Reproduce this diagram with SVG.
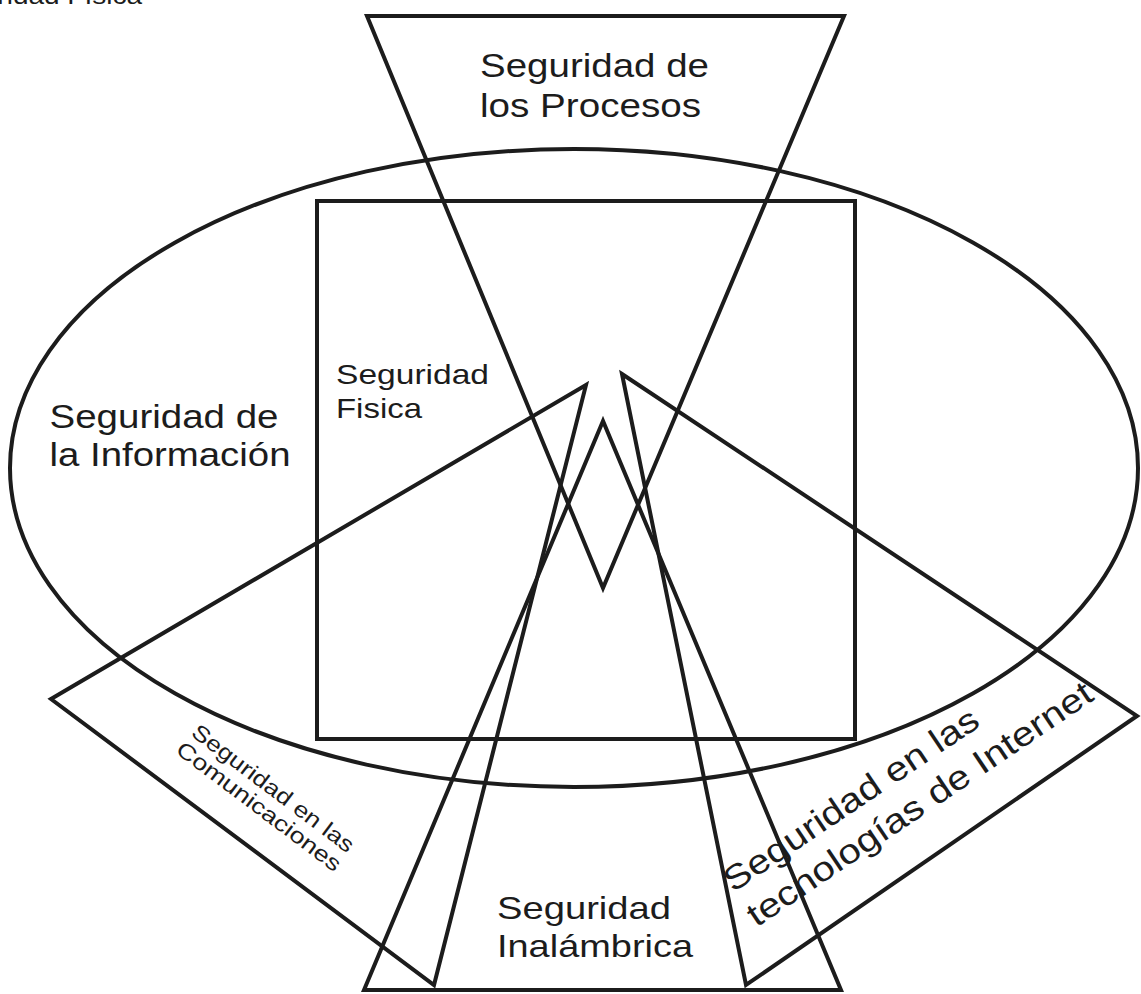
<svg xmlns="http://www.w3.org/2000/svg" width="1141" height="994" viewBox="0 0 1141 994">
<style>
.s{fill:none;stroke:#1c1c1c;stroke-width:4;stroke-linejoin:miter}
.t{font-family:"Liberation Sans",Arial,sans-serif;fill:#1c1c1c}
</style>
<rect width="1141" height="994" fill="#ffffff"/>
<g id="info">
<ellipse class="s" cx="574" cy="468" rx="564" ry="319"/>
<text class="t" font-size="33"><tspan x="49.5" y="428" textLength="229" lengthAdjust="spacingAndGlyphs">Seguridad de</tspan><tspan x="49.5" y="466" textLength="241" lengthAdjust="spacingAndGlyphs">la Información</tspan></text>
</g>
<g id="fisica">
<rect class="s" x="317" y="201" width="538" height="538"/>
<text class="t" font-size="28"><tspan x="336" y="384" textLength="153" lengthAdjust="spacingAndGlyphs">Seguridad</tspan><tspan x="336" y="418" textLength="86" lengthAdjust="spacingAndGlyphs">Fisica</tspan></text>
</g>
<g id="procesos">
<polygon class="s" points="367,16 844,16 603,588"/>
<text class="t" font-size="33"><tspan x="480" y="77" textLength="229" lengthAdjust="spacingAndGlyphs">Seguridad de</tspan><tspan x="480" y="117" textLength="221" lengthAdjust="spacingAndGlyphs">los Procesos</tspan></text>
</g>
<g id="comunicaciones">
<polygon class="s" points="586,385 51,699 434,985"/>
<text class="t" font-size="22" transform="translate(190,735) rotate(37)"><tspan x="0" y="0" textLength="197" lengthAdjust="spacingAndGlyphs">Seguridad en las</tspan><tspan x="-2" y="23" textLength="200" lengthAdjust="spacingAndGlyphs">Comunicaciones</tspan></text>
</g>
<g id="internet">
<polygon class="s" points="622,374 1137,716 746,985"/>
<text class="t" font-size="34" transform="translate(733,893) rotate(-34)"><tspan x="0" y="0" textLength="300" lengthAdjust="spacingAndGlyphs">Seguridad en las</tspan><tspan x="0" y="42" textLength="409" lengthAdjust="spacingAndGlyphs">tecnologías de Internet</tspan></text>
</g>
<g id="inalambrica">
<polygon class="s" points="603,421 364,990 841,990"/>
<text class="t" font-size="32"><tspan x="497" y="919" textLength="174" lengthAdjust="spacingAndGlyphs">Seguridad</tspan><tspan x="497" y="957" textLength="196" lengthAdjust="spacingAndGlyphs">Inalámbrica</tspan></text>
</g>
<g id="caption">
<text class="t" font-size="24" x="-68" y="4" textLength="210" lengthAdjust="spacingAndGlyphs">Seguridad Física</text>
</g>
<g id="connectors"></g>
</svg>
